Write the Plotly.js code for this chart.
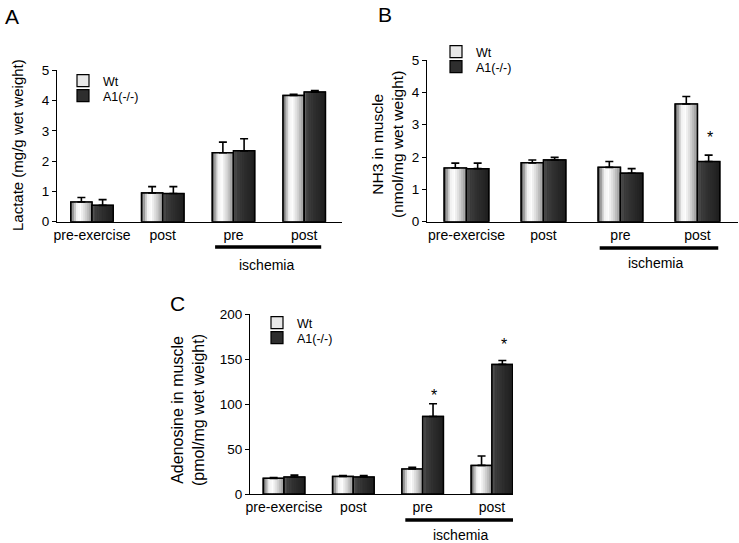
<!DOCTYPE html>
<html>
<head>
<meta charset="utf-8">
<script src="https://cdn.plot.ly/plotly-3.0.1.min.js"></script>
<style>html,body{margin:0;padding:0;background:#fff}#chart{width:739px;height:543px}</style>
</head>
<body>
<div id="chart"></div>
<script>
// ---- data ----
const categories = ['pre-exercise', 'post', 'pre', 'post'];
const seriesNames = ['Wt', 'A1(-/-)'];

// Panel A: Lactate (mg/g wet weight)
const lactateWt = [0.65, 0.95, 2.28, 4.17];
const lactateWtErr = [0.15, 0.21, 0.35, 0.04];
const lactateKO = [0.54, 0.93, 2.34, 4.28];
const lactateKOErr = [0.19, 0.23, 0.40, 0.05];

// Panel B: NH3 in muscle (nmol/mg wet weight)
const nh3Wt = [1.66, 1.82, 1.68, 3.64];
const nh3WtErr = [0.15, 0.09, 0.18, 0.23];
const nh3KO = [1.64, 1.91, 1.50, 1.86];
const nh3KOErr = [0.17, 0.08, 0.14, 0.20];

// Panel C: Adenosine in muscle (pmol/mg wet weight)
const adoWt = [17.4, 19.6, 27.8, 31.8];
const adoWtErr = [1.0, 0.8, 1.8, 10.4];
const adoKO = [18.9, 18.9, 86.2, 144];
const adoKOErr = [2.1, 1.5, 14.1, 4.4];

// ---- styling helpers ----
const FONT = 'Liberation Sans, Arial, Helvetica, sans-serif';
const wtStops = [[0, [85,85,85]], [0.28, [240,240,240]], [0.45, [255,255,255]], [0.75, [200,200,200]], [1, [135,135,135]]];
const koStops = [[0, [105,105,105]], [0.15, [62,62,62]], [0.5, [46,46,46]], [1, [28,28,28]]];

function interp(stops, t) {
  for (let i = 0; i < stops.length - 1; i++) {
    const [t0, c0] = stops[i], [t1, c1] = stops[i + 1];
    if (t >= t0 && t <= t1) {
      const f = (t - t0) / (t1 - t0 || 1);
      const c = c0.map((v, k) => Math.round(v + (c1[k] - v) * f));
      return `rgb(${c[0]},${c[1]},${c[2]})`;
    }
  }
  const c = stops[stops.length - 1][1];
  return `rgb(${c[0]},${c[1]},${c[2]})`;
}

const xIdx = categories.map((_, i) => i);
const traces = [];
function addSeries(xa, ya, values, errs, name, stops, offset, width, legendId, swatch) {
  // base (legend swatch)
  traces.push({
    type: 'bar', x: xIdx, y: values, name: name, xaxis: xa, yaxis: ya,
    offset: offset, width: width, legend: legendId,
    marker: { color: swatch, line: { color: '#000', width: 1.2 } },
    hoverinfo: 'skip'
  });
  // gradient strips
  const N = 12;
  for (let i = 0; i < N; i++) {
    traces.push({
      type: 'bar', x: xIdx, y: values, xaxis: xa, yaxis: ya, showlegend: false,
      offset: offset + i * width / N, width: width / N * 1.08,
      marker: { color: interp(stops, (i + 0.5) / N), line: { width: 0 } },
      hoverinfo: 'skip'
    });
  }
  // outline + error bars
  traces.push({
    type: 'bar', x: xIdx, y: values, xaxis: xa, yaxis: ya, showlegend: false, name: name,
    offset: offset, width: width,
    marker: { color: 'rgba(0,0,0,0)', line: { color: '#000', width: 1.5 } },
    error_y: { type: 'data', symmetric: false, array: errs, arrayminus: errs.map(() => 0), color: '#000', thickness: 1.6, width: 4 }
  });
}

const WT_SW = '#e8e8e8', KO_SW = '#2e2e2e';
addSeries('x', 'y', lactateWt, lactateWtErr, seriesNames[0], wtStops, -0.3, 0.3, 'legend', WT_SW);
addSeries('x', 'y', lactateKO, lactateKOErr, seriesNames[1], koStops, 0, 0.3, 'legend4', KO_SW);
addSeries('x2', 'y2', nh3Wt, nh3WtErr, seriesNames[0], wtStops, -0.29, 0.29, 'legend2', WT_SW);
addSeries('x2', 'y2', nh3KO, nh3KOErr, seriesNames[1], koStops, 0, 0.29, 'legend5', KO_SW);
addSeries('x3', 'y3', adoWt, adoWtErr, seriesNames[0], wtStops, -0.3, 0.3, 'legend3', WT_SW);
addSeries('x3', 'y3', adoKO, adoKOErr, seriesNames[1], koStops, 0, 0.3, 'legend6', KO_SW);

function xAxis(domain, range, anchor) {
  return {
    domain: domain, range: range, anchor: anchor, showline: true, linecolor: '#000', linewidth: 1,
    ticks: '', showgrid: false, zeroline: false, tickmode: 'array', tickvals: xIdx, ticktext: categories,
    tickfont: { family: FONT, size: 14, color: '#000' }, fixedrange: true
  };
}
function yAxis(domain, range, dtick, anchor) {
  return {
    domain: domain, range: range, dtick: dtick, anchor: anchor, showline: true, linecolor: '#000', linewidth: 1,
    ticks: 'outside', ticklen: 4, tickcolor: '#000', showgrid: false, zeroline: false,
    tickfont: { family: FONT, size: 13.5, color: '#000' }, fixedrange: true
  };
}
function legendAt(xpx, ypx) {
  return {
    x: xpx / 739, y: 1 - ypx / 543, xanchor: 'left', yanchor: 'top', bgcolor: 'rgba(0,0,0,0)', borderwidth: 0,
    font: { family: FONT, size: 12.5, color: '#000' }, tracegroupgap: 0, itemwidth: 30, itemclick: false, itemdoubleclick: false
  };
}
function txt(text, x, y, size, opts) {
  return Object.assign({ text: text, x: x, y: y, xref: 'paper', yref: 'paper', showarrow: false,
    font: { family: FONT, size: size, color: '#000' }, xanchor: 'center', yanchor: 'middle' }, opts || {});
}

const layout = {
  width: 739, height: 543, margin: { l: 0, r: 0, t: 0, b: 0 },
  paper_bgcolor: '#fff', plot_bgcolor: 'rgba(0,0,0,0)', barmode: 'overlay',
  font: { family: FONT, color: '#000' },
  xaxis: xAxis([0.0771, 0.4628], [-0.495, 3.534], 'y'),
  yaxis: yAxis([0.5917, 0.8705], [0, 5], 1, 'x'),
  xaxis2: xAxis([0.5778, 0.9986], [-0.513, 3.526], 'y2'),
  yaxis2: yAxis([0.5917, 0.8895], [0, 5], 1, 'x2'),
  xaxis3: xAxis([0.3383, 0.6942], [-0.491, 3.304], 'y3'),
  yaxis3: yAxis([0.0902, 0.4217], [0, 200], 50, 'x3'),
  legend: legendAt(63, 66),
  legend4: legendAt(63, 81),
  legend2: legendAt(436, 37),
  legend5: legendAt(436, 52),
  legend3: legendAt(257, 308),
  legend6: legendAt(257, 323),
  shapes: [
    { type: 'line', xref: 'x', yref: 'paper', x0: 1.74, x1: 3.24, y0: 1 - 247 / 543, y1: 1 - 247 / 543, line: { color: '#000', width: 3.5 } },
    { type: 'line', xref: 'x2', yref: 'paper', x0: 1.73, x1: 3.27, y0: 1 - 248 / 543, y1: 1 - 248 / 543, line: { color: '#000', width: 3.5 } },
    { type: 'line', xref: 'x3', yref: 'paper', x0: 1.75, x1: 3.36, y0: 1 - 520 / 543, y1: 1 - 520 / 543, line: { color: '#000', width: 3.5 } }
  ],
  annotations: [
    txt('A', 12 / 739, 1 - 16 / 543, 21),
    txt('B', 385 / 739, 1 - 14 / 543, 21),
    txt('C', 177 / 739, 1 - 303 / 543, 21),
    txt('Lactate (mg/g wet weight)', 17 / 739, 1 - 145 / 543, 15, { textangle: -90 }),
    txt('NH3 in muscle<br>(nmol/mg wet weight)', 387 / 739, 1 - 145 / 543, 15.5, { textangle: -90 }),
    txt('Adenosine in muscle<br>(pmol/mg wet weight)', 188 / 739, 1 - 410 / 543, 16, { textangle: -90 }),
    txt('ischemia', 2.47, 1 - 265 / 543, 14, { xref: 'x' }),
    txt('ischemia', 2.45, 1 - 263 / 543, 14, { xref: 'x2' }),
    txt('ischemia', 2.54, 1 - 535 / 543, 14, { xref: 'x3' }),
    txt('*', 3.16, 2.6, 16, { xref: 'x2', yref: 'y2' }),
    txt('*', 2.16, 109, 16, { xref: 'x3', yref: 'y3' }),
    txt('*', 3.17, 166, 16, { xref: 'x3', yref: 'y3' })
  ]
};

Plotly.newPlot('chart', traces, layout, { staticPlot: true, displayModeBar: false });
</script>
</body>
</html>
